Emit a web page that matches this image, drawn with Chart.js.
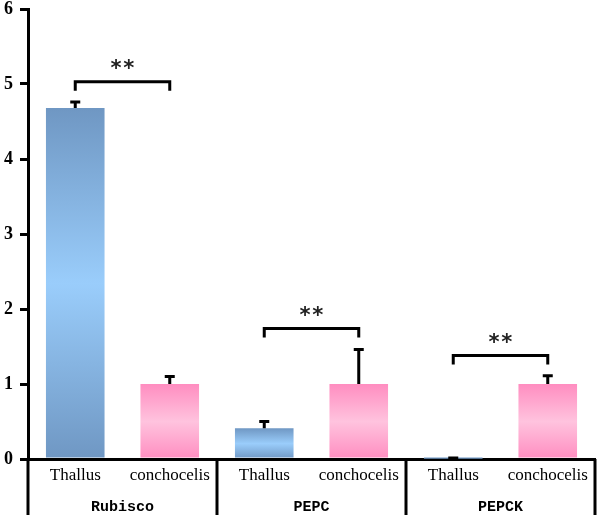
<!DOCTYPE html>
<html>
<head>
<meta charset="utf-8">
<script src="https://cdn.jsdelivr.net/npm/chart.js@4.4.1/dist/chart.umd.min.js"></script>
<style>
  html, body { margin: 0; padding: 0; background: #fff; }
  #wrap { width: 600px; height: 519px; }
</style>
</head>
<body>
<div id="wrap"><canvas id="c" width="600" height="519"></canvas></div>
<script>
const categories = ['Thallus', 'conchocelis', 'Thallus', 'conchocelis', 'Thallus', 'conchocelis'];
const groups = ['Rubisco', 'PEPC', 'PEPCK'];
const values = [4.68, 1.0, 0.41, 1.0, 0.005, 1.0];
const errors = [0.08, 0.1, 0.09, 0.46, 0.01, 0.11];
const sigLevels = [5.03, 1.74, 1.38];   // bracket heights, one per group
const sigMarks = ['**', '**', '**'];

const blue = { edge: '#6f97c3', mid: '#9acdfb' };
const pink = { edge: '#ff8dc0', mid: '#ffc3de' };

function barFill(c) {
    const chart = c.chart;
    const pal = c.dataIndex % 2 === 0 ? blue : pink;
    if (!chart.chartArea) return pal.edge;
    const y = chart.scales.y;
    const top = y.getPixelForValue(values[c.dataIndex]);
    const bot = y.getPixelForValue(0);
    if (bot - top < 2) return pal.edge;
    const g = chart.ctx.createLinearGradient(0, top, 0, bot);
    g.addColorStop(0, pal.edge);
    g.addColorStop(0.5, pal.mid);
    g.addColorStop(1, pal.edge);
    return g;
}

const extras = {
    id: 'extras',
    afterDatasetsDraw(chart) {
        const {ctx, chartArea} = chart;
        const x = chart.scales.x, y = chart.scales.y;
        ctx.save();
        ctx.strokeStyle = '#000';
        ctx.lineCap = 'butt';

        // error bars
        ctx.lineWidth = 3;
        values.forEach((v, i) => {
            const px = x.getPixelForValue(i);
            const p0 = y.getPixelForValue(v);
            const p1 = y.getPixelForValue(v + errors[i]);
            ctx.beginPath();
            ctx.moveTo(px, p0);
            ctx.lineTo(px, p1);
            ctx.moveTo(px - 5, p1);
            ctx.lineTo(px + 5, p1);
            ctx.stroke();
        });

        // significance brackets
        ctx.lineWidth = 3;
        ctx.fillStyle = '#222';
        ctx.font = 'bold 21px "DejaVu Sans Mono"';
        ctx.textAlign = 'center';
        ctx.textBaseline = 'middle';
        sigLevels.forEach((lv, g) => {
            const xa = x.getPixelForValue(g * 2);
            const xb = x.getPixelForValue(g * 2 + 1);
            const py = y.getPixelForValue(lv);
            ctx.beginPath();
            ctx.moveTo(xa, py + 9);
            ctx.lineTo(xa, py);
            ctx.lineTo(xb, py);
            ctx.lineTo(xb, py + 9);
            ctx.stroke();
            ctx.fillText(sigMarks[g], (xa + xb) / 2, py - 12);
        });

        // group separators and labels
        const bottom = chartArea.bottom;
        ctx.lineWidth = 3;
        const bounds = [chartArea.left];
        for (let g = 0; g < groups.length; g++) {
            const r = g < groups.length - 1
                ? (x.getPixelForValue(g * 2 + 1) + x.getPixelForValue(g * 2 + 2)) / 2
                : chartArea.right;
            bounds.push(r);
        }
        bounds.forEach(b => {
            ctx.beginPath();
            ctx.moveTo(b, bottom);
            ctx.lineTo(b, bottom + 56);
            ctx.stroke();
        });
        ctx.fillStyle = '#000';
        ctx.font = 'bold 15px "Liberation Mono"';
        groups.forEach((name, g) => {
            ctx.fillText(name, (bounds[g] + bounds[g + 1]) / 2, bottom + 48);
        });
        ctx.restore();
    }
};

new Chart(document.getElementById('c'), {
    type: 'bar',
    plugins: [extras],
    data: {
        labels: categories,
        datasets: [{
            data: values,
            backgroundColor: barFill,
            borderWidth: 0,
            categoryPercentage: 0.62,
            barPercentage: 1
        }]
    },
    options: {
        responsive: false,
        animation: false,
        layout: { padding: { top: 9, right: 5, left: 0, bottom: 0 } },
        plugins: { legend: { display: false }, tooltip: { enabled: false } },
        scales: {
            x: {
                grid: { display: false, drawTicks: false },
                border: { display: true, color: '#000', width: 3 },
                ticks: { color: '#000', padding: 6, font: { family: 'Liberation Serif', size: 17 } },
                afterFit(s) { s.height = 60; s.paddingLeft = 0; s.paddingRight = 0; }
            },
            y: {
                min: 0, max: 6,
                grid: { drawOnChartArea: false, tickLength: 8, color: '#000', lineWidth: 3 },
                border: { display: true, color: '#000', width: 3 },
                ticks: { stepSize: 1, color: '#000', padding: 7, font: { family: 'Liberation Serif', size: 18, weight: 'bold' } },
                afterFit(s) { s.width = 28; s.paddingTop = 0; s.paddingBottom = 0; }
            }
        }
    }
});
</script>
</body>
</html>
